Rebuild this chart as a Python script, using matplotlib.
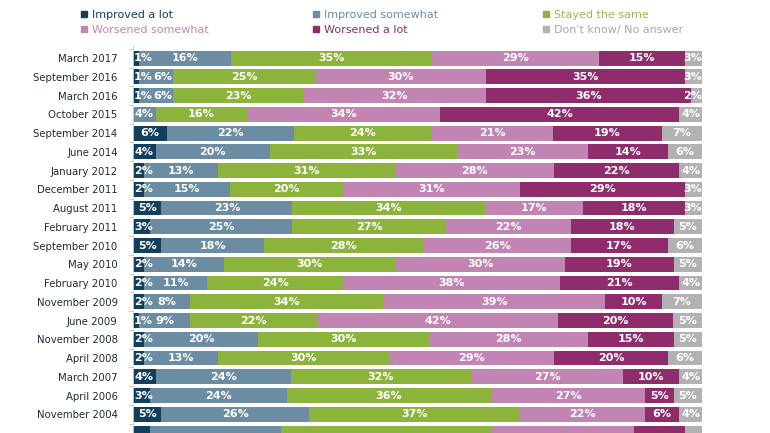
import numpy as np
import matplotlib
matplotlib.use("Agg")
import matplotlib.pyplot as plt
from matplotlib.patches import Patch

# survey waves, top to bottom (last one is cut off at the bottom edge)
waves = ["March 2017", "September 2016", "March 2016", "October 2015",
         "September 2014", "June 2014", "January 2012", "December 2011",
         "August 2011", "February 2011", "September 2010", "May 2010",
         "February 2010", "November 2009", "June 2009", "November 2008",
         "April 2008", "March 2007", "April 2006", "November 2004", ""]

improved_lot = [1, 1, 1, 0, 6, 4, 2, 2, 5, 3, 5, 2, 2, 2, 1, 2, 2, 4, 3, 5, 3]
improved_some = [16, 6, 6, 4, 22, 20, 13, 15, 23, 25, 18, 14, 11, 8, 9, 20, 13, 24, 24, 26, 23]
stayed_same = [35, 25, 23, 16, 24, 33, 31, 20, 34, 27, 28, 30, 24, 34, 22, 30, 30, 32, 36, 37, 37]
worsened_some = [29, 30, 32, 34, 21, 23, 28, 31, 17, 22, 26, 30, 38, 39, 42, 28, 29, 27, 27, 22, 25]
worsened_lot = [15, 35, 36, 42, 19, 14, 22, 29, 18, 18, 17, 19, 21, 10, 20, 15, 20, 10, 5, 6, 9]
dont_know = [3, 3, 2, 4, 7, 6, 4, 3, 3, 5, 6, 5, 4, 7, 5, 5, 6, 4, 5, 4, 3]

series_names = ["Improved a lot", "Improved somewhat", "Stayed the same",
                "Worsened somewhat", "Worsened a lot", "Don't know/ No answer"]
series_colors = ["#12405c", "#6c8ca3", "#8cb33c", "#c285b3", "#8f2d6c", "#b2b2b2"]
legend_text_colors = ["#12405c", "#6c8ca3", "#9bbb4c", "#c285b3", "#8f2d6c", "#a8a8a8"]

data = np.array([improved_lot, improved_some, stayed_same,
                 worsened_some, worsened_lot, dont_know], dtype=float)
shares = data / data.sum(axis=0)  # every bar fills the full width

W, H = 770, 433
fig = plt.figure(figsize=(W / 100, H / 100), dpi=100)
top_px = 45
ax = fig.add_axes([133 / W, 0, (702 - 133) / W, 1 - top_px / H])

pitch = 19.94   # px between rows
first = 59      # px, centre of first row
y = np.arange(len(waves))
left = np.zeros(len(waves))
labels = [[] for _ in waves]
for k in range(len(series_names)):
    ax.barh(y, shares[k], left=left, height=0.79, color=series_colors[k],
            label=series_names[k], linewidth=0)
    for i in range(len(waves)):
        v = int(data[k, i])
        if v > 0 and waves[i]:
            t = ax.text(left[i] + shares[k, i] / 2, y[i], f"{v}%", ha="center",
                        va="center", color="white", fontsize=8,
                        fontweight="bold")
            labels[i].append(t)
    left += shares[k]

ax.set_xlim(0, 1)
ax.set_ylim((H - first) / pitch, -(first - top_px) / pitch)
ax.set_yticks(y)
ax.set_yticklabels(waves, fontsize=7.3, color="#1e2b38")
ax.tick_params(axis="y", which="major", length=0, pad=11)
ax.set_yticks(np.arange(len(waves)) - 0.5, minor=True)
ax.tick_params(axis="y", which="minor", length=3, color="#c8c8c8", width=0.8)
ax.set_xticks([])
for s in ["top", "right", "bottom"]:
    ax.spines[s].set_visible(False)
ax.spines["left"].set_color("#d8d8d8")
ax.spines["left"].set_linewidth(0.6)

# push small labels apart so they stay inside the bar and don't overlap
fig.canvas.draw()
r = fig.canvas.get_renderer()
inv = ax.transData.inverted()
for row in labels:
    prev_right = 0.002
    for t in row:
        bb = t.get_window_extent(r)
        x0 = inv.transform((bb.x0, 0))[0]
        x1 = inv.transform((bb.x1, 0))[0]
        shift = 0.0
        if x0 < prev_right:
            shift = prev_right - x0
        if x1 + shift > 1.0:
            shift = 1.0 - x1
        px, py = t.get_position()
        t.set_position((px + shift, py))
        prev_right = x1 + shift

# legend: three columns of two entries
order = [(0, 3), (1, 4), (2, 5)]
col_x = [81, 313, 543]
for (a, b), cx in zip(order, col_x):
    handles = [Patch(color=series_colors[a]), Patch(color=series_colors[b])]
    leg = fig.legend(handles, [series_names[a], series_names[b]],
                     loc="upper left", bbox_to_anchor=(cx / W, 1 - 10 / H),
                     frameon=False, fontsize=8, handlelength=0.55,
                     handleheight=0.55, handletextpad=0.45, labelspacing=0.45,
                     borderpad=0, borderaxespad=0)
    leg.get_texts()[0].set_color(legend_text_colors[a])
    leg.get_texts()[1].set_color(legend_text_colors[b])

fig.savefig("out.png", dpi=100)
